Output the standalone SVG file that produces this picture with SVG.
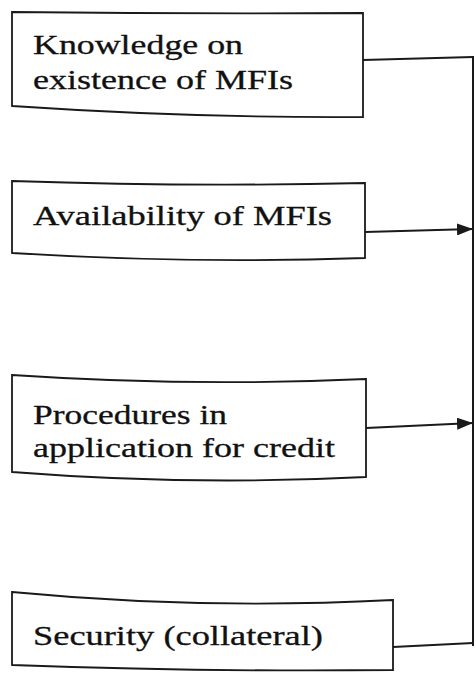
<svg xmlns="http://www.w3.org/2000/svg" width="476" height="675" viewBox="0 0 476 675">
<style>
.box{fill:none;stroke:#1a1a1a;stroke-width:1.8;stroke-linejoin:miter}
.lbl{font-family:"Liberation Serif","Times New Roman",serif;font-size:28px;fill:#111;stroke:#111;stroke-width:0.3}
.conn{fill:none;stroke:#1a1a1a;stroke-width:2}
</style>
<defs>
<marker id="ah" markerWidth="16" markerHeight="12" refX="16" refY="6" orient="auto" markerUnits="userSpaceOnUse">
<path d="M0,0 L16,6 L0,12 Z" fill="#1a1a1a"/>
</marker>
</defs>
<rect width="476" height="675" fill="#fff"/>
<g id="node-knowledge">
<path class="box" d="M12,12 Q190,14 363,13 L363,117 Q190,118 12,106 Z"/>
<text class="lbl" x="33" y="54" textLength="210" lengthAdjust="spacingAndGlyphs">Knowledge on</text>
<text class="lbl" x="33" y="89" textLength="260" lengthAdjust="spacingAndGlyphs">existence of MFIs</text>
</g>
<g id="node-availability">
<path class="box" d="M12,181 Q190,187 365,183 L365,258 Q190,264 12,253 Z"/>
<text class="lbl" x="33" y="225" textLength="299" lengthAdjust="spacingAndGlyphs">Availability of MFIs</text>
</g>
<g id="node-procedures">
<path class="box" d="M12,375 Q190,387 366,379 L366,477 Q190,486 12,472 Z"/>
<text class="lbl" x="33" y="424" textLength="194" lengthAdjust="spacingAndGlyphs">Procedures in</text>
<text class="lbl" x="33" y="457" textLength="302" lengthAdjust="spacingAndGlyphs">application for credit</text>
</g>
<g id="node-security">
<path class="box" d="M12,592 Q200,610 393,600 L393,670 Q200,672 12,665 Z"/>
<text class="lbl" x="33" y="645" textLength="290" lengthAdjust="spacingAndGlyphs">Security (collateral)</text>
</g>
<g id="connectors">
<path class="conn" d="M363,60 L473,57"/>
<path class="conn" d="M365,232 L473,229" marker-end="url(#ah)"/>
<path class="conn" d="M366,428 L473,423" marker-end="url(#ah)"/>
<path class="conn" d="M393,647 L473,643"/>
<path class="conn" d="M473,56 L473,646"/>
</g>
</svg>
